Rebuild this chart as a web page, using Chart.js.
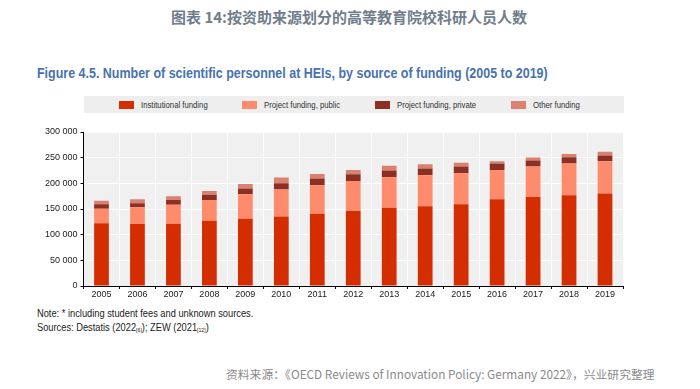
<!DOCTYPE html>
<html>
<head>
<meta charset="utf-8">
<script src="https://cdn.jsdelivr.net/npm/chart.js@4/dist/chart.umd.min.js"></script>
<style>
  body { margin: 0; width: 700px; height: 389px; background: #fff; position: relative; overflow: hidden; }
  .narrow { font-family: "Liberation Sans Narrow", "Arial Narrow", "Liberation Sans", sans-serif; }
  .squeeze { display: inline-block; transform: scaleX(0.86); transform-origin: 0 50%; white-space: nowrap; }
  #cnTitle { position: absolute; top: 6px; left: 0; width: 698px; text-align: center; font-family: "Noto Sans CJK SC", sans-serif; font-weight: bold; font-size: 15px; color: #6f7d8c; }
  #enTitle { position: absolute; top: 65px; left: 37px; font-weight: bold; font-size: 14.5px; color: #4872ad; }
  #legend { position: absolute; top: 96px; left: 84px; width: 540px; height: 17px; background: #eeeeee; font-size: 9px; color: #333; }
  #legend span.item { position: absolute; top: 4px; white-space: nowrap; }
  #legend i { display: inline-block; width: 15px; height: 8px; vertical-align: -1px; margin-right: 7px; }
  #wrap { position: absolute; left: 0; top: 88px; width: 700px; height: 215px; }
  #notes { position: absolute; top: 306px; left: 37px; font-size: 10.8px; color: #222; line-height: 14px; }
  #notes sub { font-size: 6px; vertical-align: -1px; }
  #source { position: absolute; top: 365px; left: 226px; font-family: "Noto Sans CJK SC", "Open Sans", sans-serif; font-size: 11.8px; color: #8a8a8a; white-space: nowrap; }
</style>
</head>
<body>
<div id="cnTitle">图表 14:按资助来源划分的高等教育院校科研人员人数</div>
<div id="enTitle" class="narrow"><span class="squeeze">Figure 4.5. Number of scientific personnel at HEIs, by source of funding (2005 to 2019)</span></div>
<div id="legend" class="narrow"></div>
<div id="wrap"><canvas id="myChart" width="700" height="215"></canvas></div>
<div id="notes" class="narrow"><span class="squeeze">Note: * including student fees and unknown sources.</span><br><span class="squeeze">Sources: Destatis (2022<sub>[6]</sub>); ZEW (2021<sub>[12]</sub>)</span></div>
<div id="source">资料来源：《OECD Reviews of Innovation Policy: Germany 2022》，兴业研究整理</div>
<script>
const years = ["2005", "2006", "2007", "2008", "2009", "2010", "2011", "2012", "2013", "2014", "2015", "2016", "2017", "2018", "2019"];
const institutional = [122000, 120600, 121300, 126500, 131100, 135600, 140800, 146000, 152600, 155200, 159100, 168900, 173400, 176700, 180000];
const projectPublic = [28600, 32600, 37100, 41100, 47500, 52200, 55500, 58700, 59300, 60600, 60600, 57300, 59400, 61900, 63200];
const projectPrivate = [8500, 7800, 9200, 10400, 11100, 12400, 13000, 13100, 13000, 13100, 13100, 12400, 11700, 12400, 11100];
const otherFunding = [7200, 7900, 7100, 7200, 9200, 11000, 9100, 8400, 9200, 8400, 7100, 4600, 5900, 5900, 7200];
const yTicks = [0, 50000, 100000, 150000, 200000, 250000, 300000];

const seriesNames = ["Institutional funding", "Project funding, public", "Project funding, private", "Other funding"];
const seriesColors = ["#d42d00", "#ff8b6d", "#8e2f24", "#da8170"];
const legendX = [35, 158, 291, 427];

const legend = document.getElementById("legend");
seriesNames.forEach((name, i) => {
  const item = document.createElement("span");
  item.className = "item";
  item.style.left = legendX[i] + "px";
  item.innerHTML = '<i style="background:' + seriesColors[i] + '"></i><span class="squeeze">' + name + "</span>";
  legend.appendChild(item);
});

const tickFont = { family: "'Liberation Sans Narrow', 'Arial Narrow', 'Liberation Sans', sans-serif", size: 9 };

// gray background behind the plot area
const plotBg = {
  id: "plotBg",
  beforeDraw(chart) {
    const { ctx, chartArea } = chart;
    ctx.save();
    ctx.fillStyle = "#f0f0f0";
    ctx.fillRect(chartArea.left, chartArea.top, chartArea.right - chartArea.left, chartArea.bottom - chartArea.top);
    ctx.restore();
  },
};

var ctx = document.getElementById("myChart").getContext("2d");
var myChart = new Chart(ctx, {
  type: "bar",
  data: {
    labels: years,
    datasets: [institutional, projectPublic, projectPrivate, otherFunding].map((data, i) => ({
      label: seriesNames[i],
      data: data,
      backgroundColor: seriesColors[i],
      borderWidth: 0,
      categoryPercentage: 1,
      barPercentage: 0.41,
    })),
  },
  options: {
    responsive: false,
    animation: false,
    layout: { padding: { top: 44, right: 77, left: 0, bottom: 0 } },
    plugins: {
      legend: { display: false },
      tooltip: { enabled: false },
    },
    scales: {
      x: {
        stacked: true,
        afterFit: (scale) => { scale.height = 17; },
        grid: { color: "#ffffff", tickColor: "#000000", tickLength: 3, offset: true },
        border: { color: "#000000", width: 1 },
        ticks: { color: "#222", font: tickFont, padding: 0, maxRotation: 0 },
      },
      y: {
        stacked: true,
        min: 0,
        max: 300000,
        afterFit: (scale) => { scale.width = 83.5; },
        afterBuildTicks: (scale) => { scale.ticks = yTicks.map((v) => ({ value: v })); },
        grid: { color: "#ffffff", tickColor: "#000000", tickLength: 3 },
        border: { color: "#000000", width: 1 },
        ticks: {
          color: "#222",
          font: tickFont,
          padding: 3,
          callback: (v) => v.toLocaleString("en").replace(/,/g, " "),
        },
      },
    },
  },
  plugins: [plotBg],
});
</script>
</body>
</html>
